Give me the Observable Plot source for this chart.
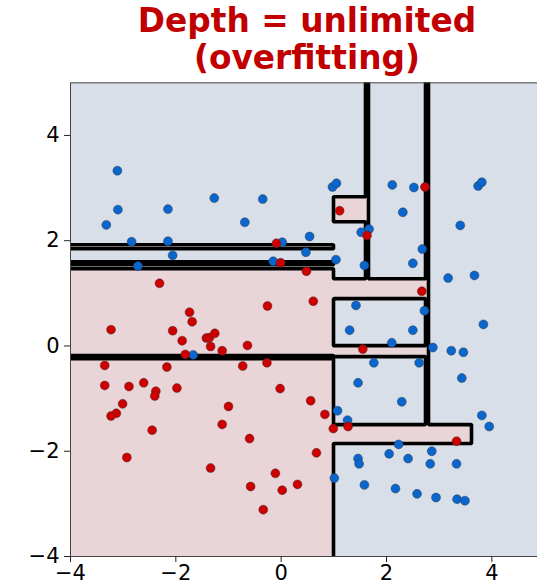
<!DOCTYPE html>
<html><head><meta charset="utf-8">
<script src="https://cdn.jsdelivr.net/npm/d3@7"></script>
<script src="https://cdn.jsdelivr.net/npm/@observablehq/plot@0.6"></script>
<style>
html,body{margin:0;padding:0;background:#fff;overflow:hidden;width:537px;height:586px}
#title{height:80px;width:537px;position:relative;}
#title div{position:absolute;left:70px;width:474px;text-align:center;font-family:"DejaVu Sans";font-weight:bold;color:#c00000;font-size:32.8px;line-height:37px;top:3px;white-space:nowrap}
#chart{width:544px;height:506px;overflow:visible}
#chart svg{display:block;max-width:none !important;width:544px !important;height:506px !important}
</style></head><body>
<div id="title"><div>Depth = unlimited<br>(overfitting)</div></div>
<div id="chart"></div>
<script>
const xDomain = [-4, 5];
const yDomain = [-4, 5];
const xTicks = [-4, -2, 0, 2, 4];
const yTicks = [-4, -2, 0, 2, 4];
const LO = -7, HI = 8; // open-ended leaf edges

// leaves of the tree predicted as the red class (rectangles)
const leafX1 = [LO, LO, LO, LO, 1.0, 1.0, 1.0, 1.61, 2.745, 1.0];
const leafX2 = [1.0, 1.0, 1.0, 1.0, 2.77, 2.77, 3.61, 1.655, 2.805, 1.61];
const leafY1 = [-0.18, LO, 1.845, 1.54, 0.90, -0.21, -1.85, 1.287, -1.49, 2.37];
const leafY2 = [1.47, -0.25, 1.925, 1.60, 1.287, 0.0, -1.49, HI, HI, 2.83];

const blueX = [-3.11,-3.10,-3.32,-2.15,-1.27,-0.69,-0.35,-2.84,-2.15,-2.06,-2.72,0.02,-0.15,0.975,1.05,2.11,2.52,3.74,3.81,2.31,3.40,1.52,1.67,0.54,0.47,1.04,1.58,2.68,2.50,3.17,3.67,1.42,2.72,3.84,1.30,2.50,2.10,2.88,3.23,3.46,1.76,2.62,3.43,1.46,2.29,1.07,1.26,3.81,3.95,2.23,2.05,2.41,2.86,1.46,1.48,2.83,3.33,1.01,1.58,2.17,2.58,2.94,3.34,3.49,-1.67];
const blueY = [3.33,2.59,2.30,2.60,2.81,2.35,2.79,1.98,1.99,1.72,1.52,1.97,1.61,3.02,3.09,3.06,3.01,3.04,3.11,2.54,2.29,2.16,2.22,2.08,1.78,1.64,1.53,1.84,1.57,1.29,1.34,0.77,0.67,0.41,0.30,0.30,0.06,-0.03,-0.09,-0.12,-0.32,-0.32,-0.61,-0.70,-1.06,-1.23,-1.41,-1.32,-1.53,-1.87,-2.05,-2.14,-2.00,-2.14,-2.24,-2.24,-2.24,-2.51,-2.64,-2.71,-2.81,-2.88,-2.91,-2.94,-0.17];
const redX = [-0.09,-0.01,1.11,2.73,1.63,0.48,2.67,0.61,1.55,-0.02,0.56,0.83,0.99,1.27,3.33,0.67,0.02,0.31,-2.31,-0.26,-1.74,-1.69,-3.23,-2.06,-1.88,-1.42,-1.36,-1.26,-1.34,-1.12,-0.64,-1.82,-3.35,-2.17,-0.73,-0.27,-3.35,-2.89,-2.61,-2.38,-2.40,-1.98,-3.01,-3.13,-3.23,-1.00,-1.12,-2.45,-0.60,-2.93,-1.34,-0.11,-0.58,-0.34];
const redY = [1.95,1.58,2.57,3.02,2.10,1.42,1.04,0.85,-0.06,-0.81,-1.04,-1.30,-1.57,-1.53,-1.81,-2.03,-2.74,-2.63,1.19,0.76,0.64,0.46,0.31,0.29,0.10,0.15,0.16,0.24,-0.01,-0.09,0.01,-0.16,-0.37,-0.40,-0.38,-0.32,-0.75,-0.77,-0.70,-0.86,-0.95,-0.80,-1.10,-1.28,-1.33,-1.15,-1.49,-1.60,-1.76,-2.12,-2.32,-2.42,-2.67,-3.11];

const BG_BLUE = "#d8dfe8", BG_PINK = "#e9d5d8";
const DOT_BLUE = "#0a66cc", DOT_RED = "#cc0000";

const leaves = leafX1.map((x1, i) => ({x1, x2: leafX2[i], y1: leafY1[i], y2: leafY2[i]}));
const isRed = (x, y) => leaves.some(r => x >= r.x1 && x < r.x2 && y >= r.y1 && y < r.y2) ? 1 : 0;
const blue = blueX.map((x, i) => ({x, y: blueY[i]}));
const red = redX.map((x, i) => ({x, y: redY[i]}));

const chart = Plot.plot({
  width: 544,
  height: 506,
  marginLeft: 70, marginTop: 2.3, marginRight: 0, marginBottom: 30,
  x: {domain: xDomain},
  y: {domain: yDomain},
  style: {fontFamily: "DejaVu Sans", background: "white", color: "#000", overflow: "visible", maxWidth: "none"},
  marks: [
    Plot.frame({fill: BG_BLUE}),
    Plot.rect(leaves, {x1: "x1", x2: "x2", y1: "y1", y2: "y2", fill: BG_PINK, clip: true}),
    Plot.contour({value: isRed, x1: LO, x2: HI, y1: LO, y2: HI, thresholds: [0.5], pixelSize: 1,
      stroke: "black", fill: "none", strokeWidth: 3.6, strokeLinejoin: "round", clip: true}),
    Plot.dot(blue, {x: "x", y: "y", r: 4.5, fill: DOT_BLUE, stroke: "#333", strokeWidth: 0.6, strokeOpacity: 0.7}),
    Plot.dot(red, {x: "x", y: "y", r: 4.5, fill: DOT_RED, stroke: "#333", strokeWidth: 0.6, strokeOpacity: 0.7}),
    Plot.frame({stroke: "#444", strokeWidth: 1}),
    Plot.axisX({ticks: xTicks, tickSize: 6, tickPadding: 3, fontSize: 21, label: null, stroke: "#222"}),
    Plot.axisY({ticks: yTicks, tickSize: 6, tickPadding: 5, fontSize: 21, label: null, stroke: "#222"})
  ]
});
document.getElementById("chart").appendChild(chart);
</script>
</body></html>
